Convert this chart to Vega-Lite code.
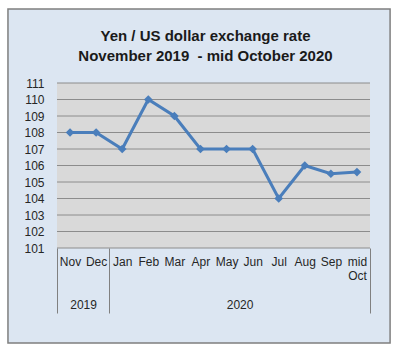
{
  "$schema": "https://vega.github.io/schema/vega-lite/v6.json",
  "width": 313,
  "height": 165,
  "autosize": {"type": "none"},
  "padding": {"left": 57, "top": 83, "right": 33, "bottom": 105},
  "background": "white",
  "config": {"view": {"stroke": null}, "font": "Liberation Sans"},
  "title": {
    "text": ["Yen / US dollar exchange rate", "November 2019\u00a0 - mid October 2020"],
    "fontSize": 15,
    "fontWeight": "bold",
    "lineHeight": 20,
    "anchor": "middle",
    "baseline": "bottom",
    "dx": -8,
    "offset": -71,
    "color": "#1a1a1a"
  },
  "data": {
    "values": [
      {"i": 0, "month": "Nov", "year": 2019, "rate": 108},
      {"i": 1, "month": "Dec", "year": 2019, "rate": 108},
      {"i": 2, "month": "Jan", "year": 2020, "rate": 107},
      {"i": 3, "month": "Feb", "year": 2020, "rate": 110},
      {"i": 4, "month": "Mar", "year": 2020, "rate": 109},
      {"i": 5, "month": "Apr", "year": 2020, "rate": 107},
      {"i": 6, "month": "May", "year": 2020, "rate": 107},
      {"i": 7, "month": "Jun", "year": 2020, "rate": 107},
      {"i": 8, "month": "Jul", "year": 2020, "rate": 104},
      {"i": 9, "month": "Aug", "year": 2020, "rate": 106},
      {"i": 10, "month": "Sep", "year": 2020, "rate": 105.5},
      {"i": 11, "month": "mid Oct", "year": 2020, "rate": 105.6}
    ]
  },
  "resolve": {"axis": {"x": "independent", "y": "independent"}},
  "layer": [
    {
      "data": {"values": [{}]},
      "mark": {"type": "rect", "fill": "#dce6f2", "stroke": "#7f7f7f", "strokeWidth": 1.5},
      "encoding": {
        "x": {
          "datum": -2.38, "type": "quantitative",
          "scale": {"domain": [-0.5, 11.5], "nice": false, "zero": false},
          "axis": {
            "orient": "bottom", "values": [0.5, 6.5],
            "labelExpr": "datum.value < 1 ? '2019' : '2020'",
            "ticks": false, "domain": false, "grid": false, "title": null,
            "labelPadding": 51, "labelFontSize": 12, "labelColor": "#262626",
            "labelFlush": false, "labelOverlap": false, "zindex": 1
          }
        },
        "x2": {"datum": 12.27},
        "y": {
          "datum": 115.49, "type": "quantitative",
          "scale": {"domain": [101, 111], "nice": false, "zero": false},
          "axis": null
        },
        "y2": {"datum": 95.24}
      }
    },
    {
      "data": {"values": [{}]},
      "mark": {"type": "rect", "fill": "#d9d9d9"},
      "encoding": {
        "x": {
          "datum": -0.5, "type": "quantitative",
          "axis": {
            "orient": "bottom", "values": [-0.5, 1.5, 11.5],
            "labels": false, "ticks": true, "tickSize": 65, "tickColor": "#808080", "tickWidth": 1,
            "domain": false, "grid": false, "title": null, "zindex": 1
          }
        },
        "x2": {"datum": 11.5},
        "y": {"datum": 101, "type": "quantitative", "axis": null},
        "y2": {"datum": 111}
      }
    },
    {
      "data": {"values": [
        {"level": 101}, {"level": 102}, {"level": 103}, {"level": 104}, {"level": 105},
        {"level": 106}, {"level": 107}, {"level": 108}, {"level": 109}, {"level": 110}, {"level": 111}
      ]},
      "mark": {"type": "rule", "stroke": "#8c8c8c", "strokeWidth": 1},
      "encoding": {
        "y": {
          "field": "level", "type": "quantitative",
          "axis": {
            "orient": "left",
            "values": [101, 102, 103, 104, 105, 106, 107, 108, 109, 110, 111],
            "domain": false, "ticks": false, "grid": false, "title": null,
            "labelPadding": 13, "labelFontSize": 12, "labelColor": "#262626",
            "labelFlush": false, "labelOverlap": false, "zindex": 1
          }
        }
      }
    },
    {
      "mark": {
        "type": "line", "color": "#4a7ebb", "strokeWidth": 3,
        "point": {"shape": "diamond", "size": 75, "filled": true, "color": "#4a7ebb", "opacity": 1}
      },
      "encoding": {
        "x": {
          "field": "i", "type": "quantitative",
          "axis": {
            "orient": "bottom", "values": [0, 1, 2, 3, 4, 5, 6, 7, 8, 9, 10, 11],
            "labelExpr": "['Nov','Dec','Jan','Feb','Mar','Apr','May','Jun','Jul','Aug','Sep',['mid','Oct']][datum.value]",
            "ticks": false, "domain": false, "grid": false, "title": null,
            "labelPadding": 8, "labelFontSize": 12, "labelColor": "#262626", "labelLineHeight": 14,
            "labelFlush": false, "labelOverlap": false, "zindex": 1
          }
        },
        "y": {"field": "rate", "type": "quantitative", "axis": null}
      }
    }
  ]
}
